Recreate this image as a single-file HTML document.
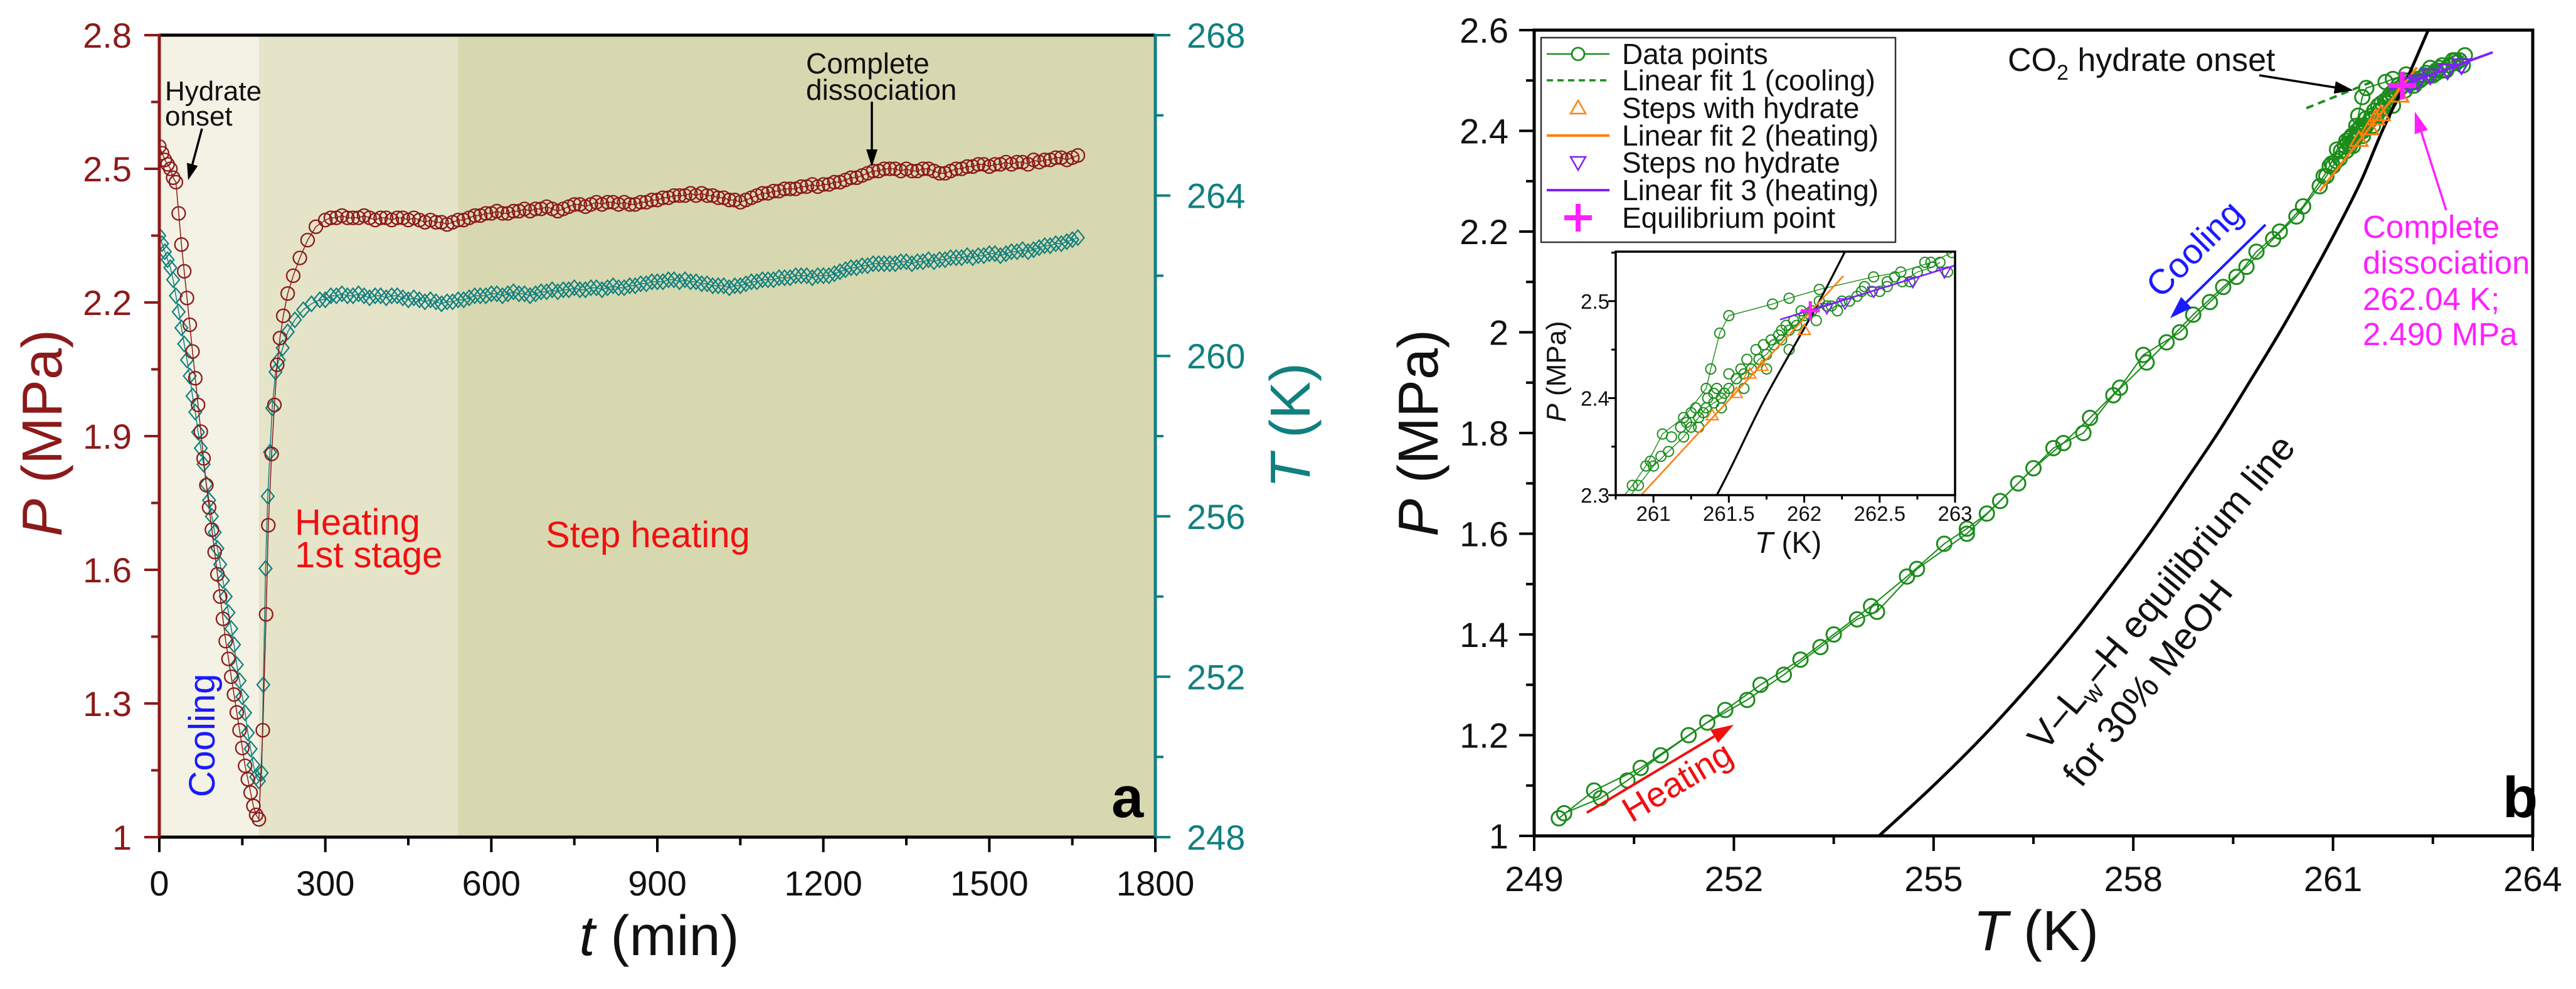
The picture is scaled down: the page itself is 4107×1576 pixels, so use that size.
<!DOCTYPE html>
<html><head><meta charset="utf-8"><style>
html,body{margin:0;padding:0;background:#fff;width:4107px;height:1576px;overflow:hidden}
svg{display:block;font-family:"Liberation Sans",Arial,sans-serif}
</style></head><body>
<svg id="fig" width="4107" height="1576" viewBox="0 0 4107 1576" xmlns="http://www.w3.org/2000/svg">
<defs>
<clipPath id="clipA"><rect x="254" y="56" width="1588" height="1278"/></clipPath>
<clipPath id="clipB"><rect x="2446" y="48" width="1592" height="1284"/></clipPath>
<clipPath id="clipI"><rect x="2576" y="401" width="541" height="388"/></clipPath>
</defs>
<g id="panelA"></g>
<g id="panelB"></g>
</svg>
<script>
// ---------- Panel a data ----------
const pEarlyTimes = [0,5,10,15,20,25,30,35,40,45,50,55,60,65,70,75,80,85,90,95,100,105,110,115,120,125,130,135,140,145,150,155,160,165,170,175,180,187,193,197,203,208,213,218,224,232,242,254,268,283];
const pEarlyVals = [2.55,2.535,2.52,2.51,2.50,2.48,2.47,2.40,2.33,2.27,2.21,2.15,2.09,2.03,1.97,1.91,1.85,1.79,1.74,1.69,1.64,1.59,1.54,1.49,1.44,1.40,1.36,1.32,1.28,1.24,1.20,1.16,1.13,1.10,1.07,1.05,1.04,1.24,1.50,1.70,1.86,1.97,2.06,2.12,2.17,2.22,2.26,2.30,2.34,2.37];
const tEarlyTimes = [0,5,10,15,20,25,30,35,40,45,50,55,60,65,70,75,80,85,90,95,100,105,110,115,120,125,130,135,140,145,150,155,160,165,170,175,180,185,188,192,196,200,204,210,216,223,232,245,260,275,290];
const tEarlyVals = [263.0,262.8,262.6,262.4,262.2,261.9,261.5,261.1,260.7,260.3,259.9,259.5,259.0,258.6,258.1,257.7,257.3,256.8,256.4,256.0,255.6,255.2,254.8,254.4,254.0,253.6,253.2,252.8,252.3,251.9,251.5,251.1,250.6,250.2,249.8,249.5,249.4,249.6,251.8,254.7,256.5,257.6,258.7,259.6,259.9,260.2,260.6,260.9,261.15,261.3,261.4];
const plateauStart = 300, plateauStep = 10;
const pPlateau = [2.385,2.39,2.39,2.395,2.39,2.39,2.39,2.395,2.39,2.385,2.39,2.39,2.385,2.39,2.39,2.385,2.39,2.385,2.38,2.385,2.38,2.38,2.375,2.38,2.385,
2.385,2.39,2.395,2.395,2.40,2.40,2.405,2.40,2.40,2.405,2.405,2.41,2.405,2.41,2.41,2.415,2.41,2.405,2.41,2.415,2.42,2.42,2.415,2.42,2.425,2.42,2.425,2.425,2.42,2.425,2.42,2.42,2.425,2.425,2.43,2.43,
2.435,2.435,2.44,2.44,2.44,2.445,2.44,2.445,2.44,2.44,2.435,2.435,2.43,2.43,2.425,2.43,2.435,2.44,2.445,2.445,2.45,2.45,2.455,2.455,2.455,2.46,2.46,2.465,2.46,2.465,
2.465,2.47,2.47,2.475,2.48,2.48,2.485,2.49,2.495,2.495,2.50,2.50,2.50,2.495,2.50,2.495,2.495,2.50,2.50,2.495,2.49,2.49,2.495,2.50,2.50,2.505,2.505,2.51,2.51,2.505,2.51,2.51,2.515,2.51,2.515,2.515,2.51,2.52,2.515,2.52,2.52,2.525,2.525,2.52,2.525,2.53];
const tPlateau = [261.4,261.5,261.5,261.55,261.5,261.5,261.55,261.5,261.45,261.5,261.5,261.45,261.5,261.5,261.45,261.4,261.45,261.4,261.35,261.4,261.35,261.3,261.35,261.35,261.4,
261.4,261.45,261.5,261.5,261.5,261.55,261.55,261.5,261.55,261.6,261.55,261.55,261.5,261.55,261.6,261.6,261.65,261.6,261.65,261.65,261.7,261.65,261.65,261.7,261.7,261.65,261.7,261.75,261.7,261.7,261.75,261.75,261.8,261.8,261.85,261.85,
261.85,261.9,261.9,261.85,261.9,261.85,261.85,261.8,261.8,261.75,261.75,261.75,261.7,261.75,261.75,261.8,261.85,261.85,261.9,261.9,261.9,261.95,261.95,261.95,262.0,262.0,262.0,261.95,262.0,262.0,
262.0,262.05,262.1,262.15,262.2,262.2,262.25,262.25,262.3,262.3,262.3,262.3,262.3,262.35,262.35,262.3,262.35,262.35,262.4,262.35,262.4,262.4,262.45,262.45,262.45,262.5,262.45,262.5,262.5,262.55,262.55,262.5,262.55,262.6,262.6,262.65,262.6,262.65,262.7,262.75,262.75,262.8,262.8,262.85,262.9,262.95];
const aXTicks = [0,300,600,900,1200,1500,1800];
const aPTicks = ["1","1.3","1.6","1.9","2.2","2.5","2.8"];
const aTTicks = [248,252,256,260,264,268];
const aRegions = [[0,180,"#f3f2e4"],[180,540,"#e5e4c9"],[540,1800,"#d8d8b0"]];

// ---------- Panel b data ----------
const trackAT = [249.37,249.9,250.6,251.32,251.87,252.4,253.0,253.5,254.06,254.6,255.16,255.5,255.8,256.27,256.8,257.25,257.7,258.2,258.5,258.9,259.35,259.7,260.1,260.45,260.8,260.9,261.0,261.1,261.2,261.25,261.3,261.35,261.4,261.45,261.5,261.55,261.6,261.65,261.7,261.75,261.8,261.85,261.9,261.95,262.0,262.05,262.15,262.25,262.35,262.45,262.55,262.65,262.75,262.85,262.9];
const trackAP = [1.035,1.09,1.135,1.20,1.25,1.30,1.35,1.40,1.456,1.515,1.58,1.61,1.64,1.70,1.77,1.80,1.875,1.94,1.98,2.035,2.09,2.13,2.185,2.23,2.29,2.31,2.33,2.345,2.36,2.37,2.38,2.39,2.395,2.40,2.41,2.42,2.425,2.43,2.44,2.445,2.455,2.46,2.47,2.475,2.485,2.49,2.495,2.50,2.505,2.51,2.515,2.52,2.53,2.535,2.54];
const trackBT = [249.45,250.0,250.4,250.9,251.6,252.2,252.75,253.3,253.85,254.15,254.75,255.5,256.0,256.5,256.95,257.35,257.8,258.15,258.7,259.15,259.55,259.85,260.2,260.55,260.86,260.95,261.06,261.2,261.35,261.38,261.44,261.5,261.79,261.9,262.1,262.46,262.64,262.84,262.98];
const trackBP = [1.045,1.075,1.11,1.16,1.225,1.27,1.32,1.375,1.43,1.445,1.53,1.60,1.665,1.73,1.78,1.83,1.89,1.955,2.00,2.06,2.11,2.16,2.20,2.25,2.31,2.33,2.363,2.38,2.41,2.43,2.467,2.485,2.497,2.503,2.512,2.525,2.53,2.54,2.55];
const clusterT = [260.98,261.05,261.12,261.18,261.22,261.28,261.33,261.36,261.42,261.47,261.5,261.58,261.62,261.68,261.73,261.78,261.83,261.88,261.93,261.98,262.03,262.1,262.18,262.3,262.4,262.5,262.6,262.7,262.8,262.95,261.3,261.45,261.6,261.75,261.9,262.08,262.22,262.38,262.55,262.75,261.25,261.4,261.55,261.7,261.85];
const clusterP = [2.335,2.34,2.36,2.37,2.375,2.39,2.385,2.40,2.41,2.405,2.425,2.43,2.44,2.45,2.455,2.46,2.465,2.475,2.48,2.49,2.487,2.50,2.495,2.50,2.515,2.51,2.525,2.52,2.54,2.53,2.37,2.39,2.41,2.43,2.45,2.48,2.49,2.51,2.52,2.53,2.385,2.405,2.42,2.44,2.47];
const eqT = [254.18,255.0,255.76,256.45,257.09,257.68,258.24,258.76,259.27,259.74,260.2,260.63,261.04,261.42,261.74,262.1,262.43];
const eqP = [1.0,1.1,1.2,1.3,1.4,1.5,1.6,1.7,1.8,1.9,2.0,2.1,2.2,2.3,2.4,2.5,2.6];
const fit1T = [260.6,261.6]; const fit1P = [2.445,2.498];
const fit2T = [260.8,262.26]; const fit2P = [2.28,2.526];
const fit3T = [261.84,263.4]; const fit3P = [2.481,2.556];
const upTriT = [261.39,261.55,261.64,261.72,262.0]; const upTriP = [2.382,2.405,2.425,2.433,2.47];
const dnTriT = [262.15,262.27,262.46,262.72,262.93]; const dnTriP = [2.493,2.498,2.51,2.52,2.53];
const eqPointT = [262.04]; const eqPointP = [2.49];
const bXTicks = [249,252,255,258,261,264];
const bYTicks = ["1","1.2","1.4","1.6","1.8","2","2.2","2.4","2.6"];
const iXTicks = ["261","261.5","262","262.5","263"];
const iYTicks = ["2.3","2.4","2.5"];

// ---------- helpers ----------
const NS="http://www.w3.org/2000/svg";
function mk(tag,attrs,parent){const e=document.createElementNS(NS,tag);for(const k in attrs)e.setAttribute(k,attrs[k]);if(parent)parent.appendChild(e);return e;}
function txt(s,attrs,parent){const e=mk("text",attrs,parent);e.textContent=s;return e;}
function lin(d0,d1,r0,r1){return v=>r0+(v-d0)/(d1-d0)*(r1-r0);}
function arrow(g,x1,y1,x2,y2,col,w,hl,hw){
  const L=Math.hypot(x2-x1,y2-y1);
  mk("line",{x1:x1,y1:y1,x2:x2-(x2-x1)*hl/L,y2:y2-(y2-y1)*hl/L,stroke:col,"stroke-width":w},g);
  const a=Math.atan2(y2-y1,x2-x1);const bx=x2-hl*Math.cos(a),by=y2-hl*Math.sin(a);
  mk("polygon",{points:`${x2},${y2} ${bx+hw*Math.sin(a)},${by-hw*Math.cos(a)} ${bx-hw*Math.sin(a)},${by+hw*Math.cos(a)}`,fill:col},g);
}
function smoothPath(pts){let d=`M${pts[0][0]},${pts[0][1]}`;for(let i=0;i<pts.length-1;i++){const p0=pts[Math.max(0,i-1)],p1=pts[i],p2=pts[i+1],p3=pts[Math.min(pts.length-1,i+2)];
 d+=` C${p1[0]+(p2[0]-p0[0])/6},${p1[1]+(p2[1]-p0[1])/6} ${p2[0]-(p3[0]-p1[0])/6},${p2[1]-(p3[1]-p1[1])/6} ${p2[0]},${p2[1]}`;}return d;}

// ---------- Panel a ----------
(function(){
const g=document.getElementById("panelA");
const X0=254,X1=1842,Y0=1334,Y1=56;
const x=lin(0,1800,X0,X1), yP=lin(1,2.8,Y0,Y1), yT=lin(248,268,Y0,Y1);
const RED="#8c1a1a", TEAL="#10807f";
aRegions.forEach(r=>{const e=mk("rect",{x:x(r[0]),y:Y1,width:x(r[1])-x(r[0]),height:Y0-Y1,fill:r[2]},g);
 
 });
const pT=pEarlyTimes.slice(),pV=pEarlyVals.slice();
pPlateau.forEach((v,i)=>{pT.push(plateauStart+i*plateauStep);pV.push(v);});
const tT=tEarlyTimes.slice(),tV=tEarlyVals.slice();
tPlateau.forEach((v,i)=>{tT.push(plateauStart+i*plateauStep);tV.push(v);});
const data=mk("g",{"clip-path":"url(#clipA)"},g);


const tl=mk("polyline",{points:tT.map((t,i)=>x(t)+","+yT(tV[i])).join(" "),fill:"none",stroke:TEAL,"stroke-width":1.5},data);


tT.forEach((t,i)=>{const cx=x(t),cy=yT(tV[i]);const e=mk("polygon",{points:`${cx},${cy-12} ${cx+10},${cy} ${cx},${cy+12} ${cx-10},${cy}`,fill:"none",stroke:TEAL,"stroke-width":2.2},data);
 
 });
const pl=mk("polyline",{points:pT.map((t,i)=>x(t)+","+yP(pV[i])).join(" "),fill:"none",stroke:RED,"stroke-width":1.5},data);


pT.forEach((t,i)=>{const e=mk("circle",{cx:x(t),cy:yP(pV[i]),r:10.5,fill:"none",stroke:RED,"stroke-width":2.3},data);
 
 });
mk("line",{x1:X0,y1:Y1,x2:X1,y2:Y1,stroke:"#000","stroke-width":5},g);
mk("line",{x1:X0-2,y1:Y0,x2:X1+2,y2:Y0,stroke:"#000","stroke-width":5},g);
mk("line",{x1:X0,y1:Y1-2,x2:X0,y2:Y0+2,stroke:RED,"stroke-width":5},g);
mk("line",{x1:X1,y1:Y1-2,x2:X1,y2:Y0+2,stroke:TEAL,"stroke-width":5},g);
aXTicks.forEach(v=>{mk("line",{x1:x(v),y1:Y0,x2:x(v),y2:Y0+24,stroke:"#000","stroke-width":4},g);
 const e=txt(String(v),{x:x(v),y:1427,"font-size":56,"text-anchor":"middle",fill:"#111"},g);
 
 
 if(v<1800)mk("line",{x1:x(v+150),y1:Y0,x2:x(v+150),y2:Y0+13,stroke:"#000","stroke-width":4},g);});
aPTicks.forEach(s=>{const v=parseFloat(s);mk("line",{x1:X0-24,y1:yP(v),x2:X0,y2:yP(v),stroke:RED,"stroke-width":4},g);
 const e=txt(s,{x:210,y:yP(v)+20,"font-size":56,"text-anchor":"end",fill:RED},g);
 
 
 if(v<2.8)mk("line",{x1:X0-13,y1:yP(v+0.15),x2:X0,y2:yP(v+0.15),stroke:RED,"stroke-width":4},g);});
aTTicks.forEach(v=>{mk("line",{x1:X1,y1:yT(v),x2:X1+24,y2:yT(v),stroke:TEAL,"stroke-width":4},g);
 const e=txt(String(v),{x:1892,y:yT(v)+20,"font-size":56,fill:TEAL},g);
 
 
 if(v<268)mk("line",{x1:X1,y1:yT(v+2),x2:X1+13,y2:yT(v+2),stroke:TEAL,"stroke-width":4},g);});
let e;
e=txt("",{x:0,y:0,"font-size":90,"text-anchor":"middle",fill:RED,transform:"translate(98,690) rotate(-90)"},g);
e.innerHTML='<tspan font-style="italic">P</tspan> (MPa)';

e=txt("",{x:0,y:0,"font-size":90,"text-anchor":"middle",fill:TEAL,transform:"translate(2088,678) rotate(-90)"},g);
e.innerHTML='<tspan font-style="italic">T</tspan> (K)';

e=txt("",{x:1051,y:1522,"font-size":90,"text-anchor":"middle",fill:"#111"},g);
e.innerHTML='<tspan font-style="italic">t</tspan> (min)';

e=txt("",{x:263,y:160,"font-size":44,fill:"#111"},g);e.innerHTML='<tspan x="263">Hydrate</tspan><tspan x="263" dy="40">onset</tspan>';

arrow(g,322,205,300,287,"#000",3.5,26,9);
e=txt("",{x:1285,y:117,"font-size":46,fill:"#111"},g);e.innerHTML='<tspan x="1285">Complete</tspan><tspan x="1285" dy="42">dissociation</tspan>';

arrow(g,1390,162,1390,266,"#000",3.5,28,9);
e=txt("",{x:470,y:852,"font-size":58,fill:"#f01010"},g);e.innerHTML='<tspan x="470">Heating</tspan><tspan x="470" dy="52">1st stage</tspan>';

e=txt("Step heating",{x:870,y:872,"font-size":58,fill:"#f01010"},g);

e=txt("Cooling",{x:0,y:0,"font-size":58,"text-anchor":"middle",fill:"#1a1aff",transform:"translate(342,1172) rotate(-90)"},g);

e=txt("a",{x:1772,y:1302,"font-size":92,"font-weight":"bold",fill:"#000"},g);

})();

// ---------- Panel b ----------
(function(){
const g=document.getElementById("panelB");
const X0=2446,X1=4038,Y0=1332,Y1=48;
const x=lin(249,264,X0,X1), y=lin(1,2.6,Y0,Y1);
const GREEN="#1b8c1b",ORANGE="#ff7f10",PURPLE="#7f1fff",MAG="#ff1fff";
function drawData(parent,xs,ys,r,sw,showFit1){
  [[trackAT,trackAP],[trackBT,trackBP]].forEach(tr=>{const l=mk("polyline",{points:tr[0].map((t,i)=>xs(t)+","+ys(tr[1][i])).join(" "),fill:"none",stroke:GREEN,"stroke-width":sw*0.7},parent);
   
   });
  [[trackAT,trackAP],[trackBT,trackBP],[clusterT,clusterP]].forEach(tr=>{tr[0].forEach((t,i)=>{const c=mk("circle",{cx:xs(t),cy:ys(tr[1][i]),r:r,fill:"none",stroke:GREEN,"stroke-width":sw},parent);
   
   });});
  const eq=mk("path",{d:smoothPath(eqT.map((t,i)=>[xs(t),ys(eqP[i])])),fill:"none",stroke:"#000","stroke-width":sw*1.6},parent);
  
  
  if(showFit1){
  const f1=mk("line",{x1:xs(fit1T[0]),y1:ys(fit1P[0]),x2:xs(fit1T[1]),y2:ys(fit1P[1]),stroke:GREEN,"stroke-width":sw*1.3,"stroke-dasharray":"12 8"},parent);
  
  }
  const f2=mk("line",{x1:xs(fit2T[0]),y1:ys(fit2P[0]),x2:xs(fit2T[1]),y2:ys(fit2P[1]),stroke:ORANGE,"stroke-width":sw*1.3},parent);
  
  
  const f3=mk("line",{x1:xs(fit3T[0]),y1:ys(fit3P[0]),x2:xs(fit3T[1]),y2:ys(fit3P[1]),stroke:PURPLE,"stroke-width":sw*1.3},parent);
  
  
  const s=r*1.2;
  upTriT.forEach((t,i)=>{const cx=xs(t),cy=ys(upTriP[i]);const p=mk("polygon",{points:`${cx},${cy-s} ${cx+s},${cy+s*0.7} ${cx-s},${cy+s*0.7}`,fill:"none",stroke:ORANGE,"stroke-width":sw},parent);
   
   });
  dnTriT.forEach((t,i)=>{const cx=xs(t),cy=ys(dnTriP[i]);const p=mk("polygon",{points:`${cx},${cy+s} ${cx+s},${cy-s*0.7} ${cx-s},${cy-s*0.7}`,fill:"none",stroke:PURPLE,"stroke-width":sw},parent);
   
   });
  eqPointT.forEach((t,i)=>{const cx=xs(t),cy=ys(eqPointP[i]);const q=mk("path",{d:`M${cx-s*1.6},${cy}H${cx+s*1.6}M${cx},${cy-s*1.6}V${cy+s*1.6}`,stroke:MAG,"stroke-width":sw*2.5},parent);
   
   });
}
const main=mk("g",{"clip-path":"url(#clipB)"},g);


drawData(main,x,y,11.5,3,true);
mk("rect",{x:X0,y:Y1,width:X1-X0,height:Y0-Y1,fill:"none",stroke:"#000","stroke-width":5},g);
bXTicks.forEach(v=>{mk("line",{x1:x(v),y1:Y0,x2:x(v),y2:Y0+24,stroke:"#000","stroke-width":4},g);
 const e=txt(String(v),{x:x(v),y:1420,"font-size":56,"text-anchor":"middle",fill:"#111"},g);
 
 
 if(v<264)mk("line",{x1:x(v+1.5),y1:Y0,x2:x(v+1.5),y2:Y0+13,stroke:"#000","stroke-width":4},g);});
bYTicks.forEach(s=>{const v=parseFloat(s);mk("line",{x1:X0-24,y1:y(v),x2:X0,y2:y(v),stroke:"#000","stroke-width":4},g);
 const e=txt(s,{x:2405,y:y(v)+20,"font-size":56,"text-anchor":"end",fill:"#111"},g);
 
 
 if(v<2.6)mk("line",{x1:X0-13,y1:y(v+0.1),x2:X0,y2:y(v+0.1),stroke:"#000","stroke-width":4},g);});
let e;
e=txt("",{x:0,y:0,"font-size":90,"text-anchor":"middle",fill:"#111",transform:"translate(2292,690) rotate(-90)"},g);
e.innerHTML='<tspan font-style="italic">P</tspan> (MPa)';

e=txt("",{x:3246,y:1514,"font-size":90,"text-anchor":"middle",fill:"#111"},g);
e.innerHTML='<tspan font-style="italic">T</tspan> (K)';

e=txt("",{x:3201,y:113,"font-size":52,fill:"#111"},g);
e.innerHTML='CO<tspan font-size="34" dy="14">2</tspan><tspan dy="-14"> hydrate onset</tspan>';

arrow(g,3602,120,3752,144,"#000",3.5,30,10);
e=txt("",{x:3767,y:379,"font-size":51,fill:MAG},g);
e.innerHTML='<tspan x="3767">Complete</tspan><tspan x="3767" dy="57">dissociation</tspan><tspan x="3767" dy="58">262.04 K;</tspan><tspan x="3767" dy="56">2.490 MPa</tspan>';

arrow(g,3900,335,3850,178,MAG,3.5,34,11);
arrow(g,3612,358,3460,507,"#1a1aff",4,36,12);
e=txt("Cooling",{x:0,y:0,"font-size":56,"text-anchor":"middle",fill:"#1a1aff",transform:"translate(3512,410) rotate(-45)"},g);

arrow(g,2530,1295,2764,1155,"#f01010",4,36,12);
e=txt("Heating",{x:0,y:0,"font-size":56,"text-anchor":"middle",fill:"#f01010",transform:"translate(2684,1262) rotate(-31)"},g);

e=txt("",{x:0,y:0,"font-size":60,fill:"#111",transform:"translate(3261,1199) rotate(-50.4)"},g);
e.innerHTML='V–L<tspan font-size="40" dy="12">w</tspan><tspan dy="-12">–H equilibrium line</tspan>';

e=txt("for 30% MeOH",{x:0,y:0,"font-size":60,fill:"#111",transform:"translate(3318,1257) rotate(-52)"},g);

e=txt("b",{x:3990,y:1302,"font-size":92,"font-weight":"bold",fill:"#000"},g);

const lg=mk("g",{},g);

mk("rect",{x:2457,y:60,width:565,height:326,fill:"#fff",stroke:"#333","stroke-width":2.5},lg);
const ly=[86,128,172,216,259,303,347];
const labels=["Data points","Linear fit 1 (cooling)","Steps with hydrate","Linear fit 2 (heating)","Steps no hydrate","Linear fit 3 (heating)","Equilibrium point"];
labels.forEach((s,i)=>{const t=txt(s,{x:2586,y:ly[i]+16,"font-size":46,fill:"#111"},lg);
 });
mk("line",{x1:2466,y1:ly[0],x2:2566,y2:ly[0],stroke:GREEN,"stroke-width":2.5},lg);
mk("circle",{cx:2516,cy:ly[0],r:10,fill:"#fff",stroke:GREEN,"stroke-width":2.8},lg);
mk("line",{x1:2466,y1:ly[1],x2:2566,y2:ly[1],stroke:GREEN,"stroke-width":3.5,"stroke-dasharray":"10 7"},lg);
mk("polygon",{points:`2516,${ly[2]-12} 2528,${ly[2]+9} 2504,${ly[2]+9}`,fill:"none",stroke:ORANGE,"stroke-width":2.5},lg);
mk("line",{x1:2466,y1:ly[3],x2:2566,y2:ly[3],stroke:ORANGE,"stroke-width":4},lg);
mk("polygon",{points:`2516,${ly[4]+12} 2528,${ly[4]-9} 2504,${ly[4]-9}`,fill:"none",stroke:PURPLE,"stroke-width":2.5},lg);
mk("line",{x1:2466,y1:ly[5],x2:2566,y2:ly[5],stroke:PURPLE,"stroke-width":4},lg);
mk("path",{d:`M2494,${ly[6]}H2538M2516,${ly[6]-22}V${ly[6]+22}`,stroke:MAG,"stroke-width":8},lg);
const ig=mk("g",{},g);

const IX0=2576,IX1=3117,IY0=789,IY1=401;
const ix=lin(260.75,263,IX0,IX1), iy=lin(2.3,2.551,IY0,IY1);
mk("rect",{x:IX0,y:IY1,width:IX1-IX0,height:IY0-IY1,fill:"#fff"},ig);
const ic=mk("g",{"clip-path":"url(#clipI)"},ig);
drawData(ic,ix,iy,8,2,false);
mk("rect",{x:IX0,y:IY1,width:IX1-IX0,height:IY0-IY1,fill:"none",stroke:"#000","stroke-width":3.5},ig);
iXTicks.forEach(s=>{const v=parseFloat(s);mk("line",{x1:ix(v),y1:IY0,x2:ix(v),y2:IY0+12,stroke:"#000","stroke-width":3},ig);
 const t=txt(s,{x:ix(v),y:830,"font-size":33,"text-anchor":"middle",fill:"#111"},ig);
 
 if(v<263)mk("line",{x1:ix(v+0.25),y1:IY0,x2:ix(v+0.25),y2:IY0+7,stroke:"#000","stroke-width":3},ig);});
mk("line",{x1:IX0,y1:IY0,x2:IX0,y2:IY0+7,stroke:"#000","stroke-width":3},ig);
iYTicks.forEach(s=>{const v=parseFloat(s);mk("line",{x1:IX0-12,y1:iy(v),x2:IX0,y2:iy(v),stroke:"#000","stroke-width":3},ig);
 const t=txt(s,{x:2566,y:iy(v)+12,"font-size":33,"text-anchor":"end",fill:"#111"},ig);
 
 mk("line",{x1:IX0-7,y1:iy(v+0.05),x2:IX0,y2:iy(v+0.05),stroke:"#000","stroke-width":3},ig);});
e=txt("",{x:0,y:0,"font-size":44,"text-anchor":"middle",fill:"#111",transform:"translate(2496,592) rotate(-90)"},ig);
e.innerHTML='<tspan font-style="italic">P</tspan> (MPa)';

e=txt("",{x:2851,y:881,"font-size":48,"text-anchor":"middle",fill:"#111"},ig);
e.innerHTML='<tspan font-style="italic">T</tspan> (K)';

})();
</script>
</body></html>
